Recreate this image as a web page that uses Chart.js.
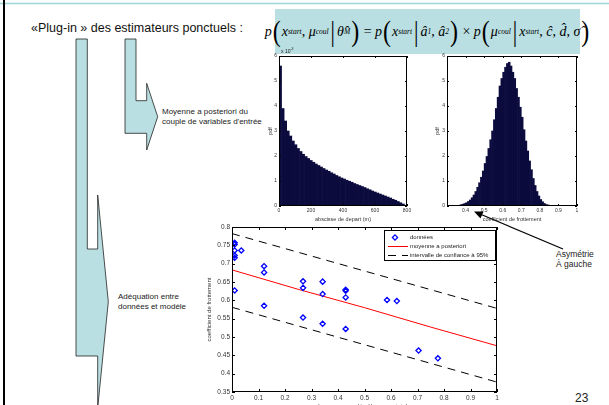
<!DOCTYPE html>
<html lang="fr">
<head>
<meta charset="utf-8">
<script src="https://cdn.jsdelivr.net/npm/chart.js@4/dist/chart.umd.min.js"></script>
<style>
  html, body { margin: 0; padding: 0; }
  body {
    width: 609px; height: 405px; position: relative; overflow: hidden;
    background: #fff; font-family: Arial, 'Liberation Sans', sans-serif; color: #222;
  }
  .abs { position: absolute; white-space: nowrap; }
  .chart-box { position: absolute; }
  .chart-box canvas { display: block; }
  #title { left: 31px; top: 21px; font-size: 12.5px; color: #111; }
  #formula {
    left: 275px; top: 9px; width: 305px; height: 45px; background: #b9dfe2;
    font-family: 'Liberation Serif', 'DejaVu Serif', serif; font-size: 14px; color: #000;
    display: flex; align-items: center; justify-content: center;
  }
  #formula i { font-style: italic; }
  #formula sub { font-size: 7.5px; font-style: italic; vertical-align: -3px; }
  #formula .big { font-size: 24px; transform: scaleY(1.25); display: inline-block; font-style: normal; margin: 0 1px; }
  #formula .bar { font-size: 22px; display: inline-block; transform: scaleY(1.3); margin: 0 2px; }
  .note { font-size: 8px; line-height: 10px; color: #222; }
  #asym { left: 556px; top: 249px; font-size: 8.5px; line-height: 10px; color: #222; }
  #page { left: 575px; top: 391px; font-size: 12px; color: #222; }
  #exp1 { left: 281px; top: 47px; font-size: 5px; color: #222; }
  #exp1 sup { font-size: 3.5px; }
</style>
</head>
<body>

<div id="title" class="abs">«Plug-in » des estimateurs ponctuels :</div>
<div id="formula" class="abs">
  <i>p</i><span class="big">(</span><i>x</i><sub>start</sub>,&nbsp;<i>μ</i><sub>coul</sub><span class="bar">|</span><i>θ&#770;</i><sub>M</sub><span class="big">)</span>&nbsp;=&nbsp;<i>p</i><span class="big">(</span><i>x</i><sub>start</sub><span class="bar">|</span><i>a&#770;</i><sub>1</sub>,&nbsp;<i>a&#770;</i><sub>2</sub><span class="big">)</span>&nbsp;×&nbsp;<i>p</i><span class="big">(</span><i>μ</i><sub>coul</sub><span class="bar">|</span><i>x</i><sub>start</sub>,&nbsp;<i>c&#770;</i>,&nbsp;<i>d&#770;</i>,&nbsp;<i>σ&#770;</i><span class="big">)</span>
</div>

<div class="abs note" style="left:162px; top:107px;">Moyenne a posteriori du<br>couple de variables d'entrée</div>
<div class="abs note" style="left:118px; top:292px;">Adéquation entre<br>données et modèle</div>
<div id="asym" class="abs">Asymétrie<br>À gauche</div>
<div id="page" class="abs">23</div>

<div class="chart-box" style="left:267px; top:44px; width:148px; height:179px;"><canvas id="hist-depart"></canvas></div>
<div class="chart-box" style="left:434px; top:44px; width:151px; height:179px;"><canvas id="hist-frott"></canvas></div>
<div class="chart-box" style="left:206px; top:220px; width:299px; height:190px;"><canvas id="scatter-frott"></canvas></div>
<div id="exp1" class="abs">x 10<sup>-3</sup></div>

<svg class="abs" style="left:0; top:0;" width="609" height="405">
  <!-- bandeau du haut et bord gauche -->
  <line x1="0" y1="3.5" x2="609" y2="3.5" stroke="#9fd3d6" stroke-width="1.5"/>
  <rect x="3" y="0" width="2" height="405" fill="#000"/>
  <!-- flèches coudées -->
  <polygon points="76,39 87.3,39 87.3,249 97.7,249 97.7,195 108.3,301.7 97.7,408 97.7,356 76,356"
           fill="#b9dfe2" stroke="#222" stroke-width="0.8"/>
  <polygon points="125,39 136,39 136,100.7 146.7,100.7 146.7,83.3 157.7,116.7 146.7,150 146.7,133.3 125,133.3"
           fill="#b9dfe2" stroke="#222" stroke-width="0.8"/>
  <!-- flèche vers l'asymétrie -->
  <line x1="563" y1="249" x2="480" y2="214" stroke="#000" stroke-width="1.2"/>
  <polygon points="474,211.5 483.5,211.5 480.5,218.5" fill="#000"/>
</svg>

<script>
// Histogramme 1 : abscisse de départ (m), centres des classes
const DEPART_X = [8, 24, 40, 56, 72, 88, 104, 120, 136, 152, 168, 184, 200, 216, 232, 248, 264, 280, 296, 312,
  328, 344, 360, 376, 392, 408, 424, 440, 456, 472, 488, 504, 520, 536, 552, 568, 584, 600, 616, 632,
  648, 664, 680, 696, 712, 728, 744, 760, 776, 792];
// pdf en unités de 10^-3
const DEPART_PDF = [5.6, 3.9, 3.4, 3.0, 2.8, 2.6, 2.45, 2.3, 2.18, 2.07, 1.98, 1.9, 1.82, 1.75, 1.68, 1.62, 1.56, 1.5, 1.44, 1.39,
  1.33, 1.28, 1.22, 1.17, 1.12, 1.08, 1.03, 0.99, 0.95, 0.9, 0.86, 0.82, 0.78, 0.74, 0.69, 0.65, 0.6, 0.56, 0.52, 0.48,
  0.44, 0.4, 0.36, 0.32, 0.27, 0.23, 0.18, 0.13, 0.08, 0.03];
const DEPART_XTICKS = [0, 200, 400, 600, 800];

// Histogramme 2 : coefficient de frottement
const FROTT_X = [0.325, 0.335, 0.345, 0.355, 0.365, 0.375, 0.385, 0.395, 0.405, 0.415, 0.425, 0.435, 0.445, 0.455, 0.465,
  0.475, 0.485, 0.495, 0.505, 0.515, 0.525, 0.535, 0.545, 0.555, 0.565, 0.575, 0.585, 0.595, 0.605, 0.615,
  0.625, 0.635, 0.645, 0.655, 0.665, 0.675, 0.685, 0.695, 0.705, 0.715, 0.725, 0.735, 0.745, 0.755, 0.765,
  0.775, 0.785, 0.795, 0.805, 0.815, 0.825, 0.835, 0.845, 0.855, 0.865, 0.875, 0.885, 0.895];
const FROTT_PDF = [0.01, 0.01, 0.02, 0.02, 0.03, 0.05, 0.07, 0.1, 0.13, 0.18, 0.24, 0.33, 0.44, 0.58, 0.75,
  0.93, 1.15, 1.4, 1.7, 1.98, 2.3, 2.65, 3.0, 3.45, 3.9, 4.35, 4.8, 5.1, 5.35, 5.55,
  5.7, 5.75, 5.6, 5.35, 5.1, 4.7, 4.35, 3.95, 3.55, 3.05, 2.6, 2.2, 1.8, 1.45, 1.1,
  0.82, 0.58, 0.4, 0.26, 0.17, 0.1, 0.06, 0.04, 0.02, 0.01, 0.01, 0.005, 0.005];
const FROTT_XTICKS = [0.4, 0.5, 0.6, 0.7, 0.8, 0.9, 1];

// Nuage de points : données observées
const OBS_X = [0.01, 0.01, 0.01, 0.01, 0.01, 0.035, 0.01, 0.121, 0.121, 0.121, 0.268, 0.268, 0.268,
  0.342, 0.342, 0.342, 0.429, 0.429, 0.429, 0.429, 0.585, 0.622, 0.704, 0.777];
const OBS_Y = [0.757, 0.752, 0.736, 0.722, 0.716, 0.736, 0.627, 0.693, 0.676, 0.585, 0.652, 0.634, 0.553,
  0.651, 0.617, 0.536, 0.629, 0.626, 0.608, 0.522, 0.601, 0.598, 0.463, 0.442];
// moyenne a posteriori et intervalle à 95%
const FIT_X = [0, 0.25, 0.5, 0.75, 1];
const MEAN_Y = [0.683, 0.630, 0.580, 0.527, 0.476];
const UPPER_Y = [0.782, 0.731, 0.680, 0.629, 0.578];
const LOWER_Y = [0.581, 0.530, 0.479, 0.428, 0.377];

const FONT = 'Arial, "Liberation Sans", sans-serif';
const TICK_COLOR = '#333';
const BAR_COLOR = '#0b0b3e';

const toPoints = (xs, ys) => xs.map((x, i) => ({ x, y: ys[i] }));
const fmt = (v) => String(Math.round(v * 100) / 100);

// cadre façon MATLAB : boîte fermée, graduations vers l'intérieur
const matlabFrame = {
  id: 'matlabFrame',
  afterDatasetsDraw(chart, args, opts) {
    const { ctx, chartArea: a, scales } = chart;
    const len = opts.tick || 2;
    ctx.save();
    ctx.strokeStyle = '#000';
    ctx.lineWidth = 1;
    ctx.beginPath();
    scales.x.ticks.forEach((t) => {
      const px = Math.round(scales.x.getPixelForValue(t.value)) + 0.5;
      ctx.moveTo(px, a.bottom); ctx.lineTo(px, a.bottom - len);
      ctx.moveTo(px, a.top); ctx.lineTo(px, a.top + len);
    });
    scales.y.ticks.forEach((t) => {
      const py = Math.round(scales.y.getPixelForValue(t.value)) + 0.5;
      ctx.moveTo(a.left, py); ctx.lineTo(a.left + len, py);
      ctx.moveTo(a.right, py); ctx.lineTo(a.right - len, py);
    });
    ctx.stroke();
    ctx.strokeRect(a.left + 0.5, a.top + 0.5, a.right - a.left - 1, a.bottom - a.top - 1);
    ctx.restore();
  },
};

// légende encadrée dans la zone de tracé (coin haut droit)
const insideLegend = {
  id: 'insideLegend',
  afterDraw(chart, args, opts) {
    if (!opts.display) return;
    const { ctx, chartArea: a } = chart;
    const items = chart.data.datasets.filter((d) => d.label);
    const x0 = a.right - opts.right - opts.width;
    const y0 = a.top + opts.top;
    const h = items.length * opts.rowHeight + 3;
    ctx.save();
    ctx.fillStyle = '#fff';
    ctx.fillRect(x0, y0, opts.width, h);
    ctx.strokeStyle = '#000';
    ctx.lineWidth = 1;
    ctx.strokeRect(x0 + 0.5, y0 + 0.5, opts.width, h);
    ctx.font = `${opts.fontSize}px ${FONT}`;
    ctx.textBaseline = 'middle';
    items.forEach((d, i) => {
      const cy = Math.round(y0 + 2 + opts.rowHeight * (i + 0.5)) + 0.5;
      if (d.showLine) {
        ctx.strokeStyle = d.borderColor;
        ctx.lineWidth = d.borderWidth;
        ctx.setLineDash(d.borderDash || []);
        ctx.beginPath();
        ctx.moveTo(x0 + 4, cy); ctx.lineTo(x0 + 24, cy);
        ctx.stroke();
        ctx.setLineDash([]);
      } else {
        const cx = x0 + 11, r = d.pointRadius;
        ctx.strokeStyle = d.borderColor;
        ctx.lineWidth = d.borderWidth;
        ctx.beginPath();
        ctx.moveTo(cx, cy - r); ctx.lineTo(cx + r, cy); ctx.lineTo(cx, cy + r); ctx.lineTo(cx - r, cy);
        ctx.closePath();
        ctx.stroke();
      }
      ctx.fillStyle = '#222';
      ctx.fillText(d.label, x0 + 26, cy);
    });
    ctx.restore();
  },
};

Chart.register(matlabFrame, insideLegend);

function histOptions({ yWidth, xMin, xMax, xTicks, xTitle, padRight }) {
  return {
    responsive: true,
    maintainAspectRatio: false,
    animation: false,
    layout: { padding: { left: 0, right: padRight, top: 12, bottom: 0 } },
    plugins: {
      legend: { display: false },
      tooltip: { enabled: false },
      matlabFrame: { tick: 2 },
      insideLegend: { display: false },
    },
    scales: {
      x: {
        type: 'linear',
        offset: false,
        min: xMin,
        max: xMax,
        afterBuildTicks: (s) => { s.ticks = xTicks.map((v) => ({ value: v })); },
        afterFit: (s) => { s.height = 17; },
        grid: { display: false, drawTicks: false },
        border: { display: false },
        ticks: { color: TICK_COLOR, padding: 1.5, maxRotation: 0, autoSkip: false, font: { family: FONT, size: 5 }, callback: fmt },
        title: { display: true, text: xTitle, color: TICK_COLOR, padding: 0, font: { family: FONT, size: 5.5 } },
      },
      y: {
        min: 0,
        max: 6,
        afterBuildTicks: (s) => { s.ticks = [0, 1, 2, 3, 4, 5, 6].map((v) => ({ value: v })); },
        afterFit: (s) => { s.width = yWidth; },
        grid: { display: false, drawTicks: false },
        border: { display: false },
        ticks: { color: TICK_COLOR, padding: 2, font: { family: FONT, size: 5 } },
        title: { display: true, text: 'pdf', color: TICK_COLOR, padding: 0, font: { family: FONT, size: 5.5 } },
      },
    },
  };
}

function histDataset(xs, ys) {
  return {
    data: toPoints(xs, ys),
    backgroundColor: BAR_COLOR,
    borderWidth: 0,
    barPercentage: 1,
    categoryPercentage: 1,
  };
}

new Chart(document.getElementById('hist-depart'), {
  type: 'bar',
  data: { datasets: [histDataset(DEPART_X, DEPART_PDF)] },
  options: histOptions({ yWidth: 12, xMin: 0, xMax: 800, xTicks: DEPART_XTICKS, xTitle: 'abscisse de depart (m)', padRight: 8 }),
});

new Chart(document.getElementById('hist-frott'), {
  type: 'bar',
  data: { datasets: [histDataset(FROTT_X, FROTT_PDF)] },
  options: histOptions({ yWidth: 13, xMin: 0.3, xMax: 1, xTicks: FROTT_XTICKS, xTitle: 'coefficient de frottement', padRight: 8 }),
});

const dashStyle = { borderColor: '#000', borderWidth: 1, borderDash: [8, 6], showLine: true, pointRadius: 0, fill: false };

new Chart(document.getElementById('scatter-frott'), {
  type: 'scatter',
  data: {
    datasets: [
      {
        label: 'données',
        data: toPoints(OBS_X, OBS_Y),
        pointStyle: 'rectRot',
        pointRadius: 2.6,
        borderColor: '#0000ff',
        backgroundColor: 'rgba(0,0,0,0)',
        borderWidth: 1.3,
        showLine: false,
      },
      {
        label: 'moyenne a posteriori',
        data: toPoints(FIT_X, MEAN_Y),
        borderColor: '#ff0000',
        borderWidth: 1,
        showLine: true,
        pointRadius: 0,
        fill: false,
      },
      { label: 'intervalle de confiance à 95%', data: toPoints(FIT_X, UPPER_Y), ...dashStyle },
      { label: '', data: toPoints(FIT_X, LOWER_Y), ...dashStyle },
    ],
  },
  options: {
    responsive: true,
    maintainAspectRatio: false,
    animation: false,
    layout: { padding: { left: 0, right: 8, top: 7, bottom: 0 } },
    plugins: {
      legend: { display: false },
      tooltip: { enabled: false },
      matlabFrame: { tick: 3 },
      insideLegend: { display: true, right: 2, top: 3, width: 111, rowHeight: 9, fontSize: 6 },
    },
    scales: {
      x: {
        type: 'linear',
        min: 0,
        max: 1,
        afterBuildTicks: (s) => { s.ticks = [0, 0.1, 0.2, 0.3, 0.4, 0.5, 0.6, 0.7, 0.8, 0.9, 1].map((v) => ({ value: v })); },
        afterFit: (s) => { s.height = 18; },
        grid: { display: false, drawTicks: false },
        border: { display: false },
        ticks: { color: TICK_COLOR, padding: 2, maxRotation: 0, autoSkip: false, font: { family: FONT, size: 6.5 }, callback: fmt },
        title: { display: true, text: 'longueur cumulée / longueur totale', color: TICK_COLOR, padding: 0, font: { family: FONT, size: 6 } },
      },
      y: {
        min: 0.35,
        max: 0.8,
        afterBuildTicks: (s) => { s.ticks = [0.35, 0.4, 0.45, 0.5, 0.55, 0.6, 0.65, 0.7, 0.75, 0.8].map((v) => ({ value: v })); },
        afterFit: (s) => { s.width = 26; },
        grid: { display: false, drawTicks: false },
        border: { display: false },
        ticks: { color: TICK_COLOR, padding: 2, font: { family: FONT, size: 6.5 }, callback: fmt },
        title: { display: true, text: 'coefficient de frottement', color: TICK_COLOR, padding: 0, font: { family: FONT, size: 6 } },
      },
    },
  },
});
</script>
</body>
</html>
